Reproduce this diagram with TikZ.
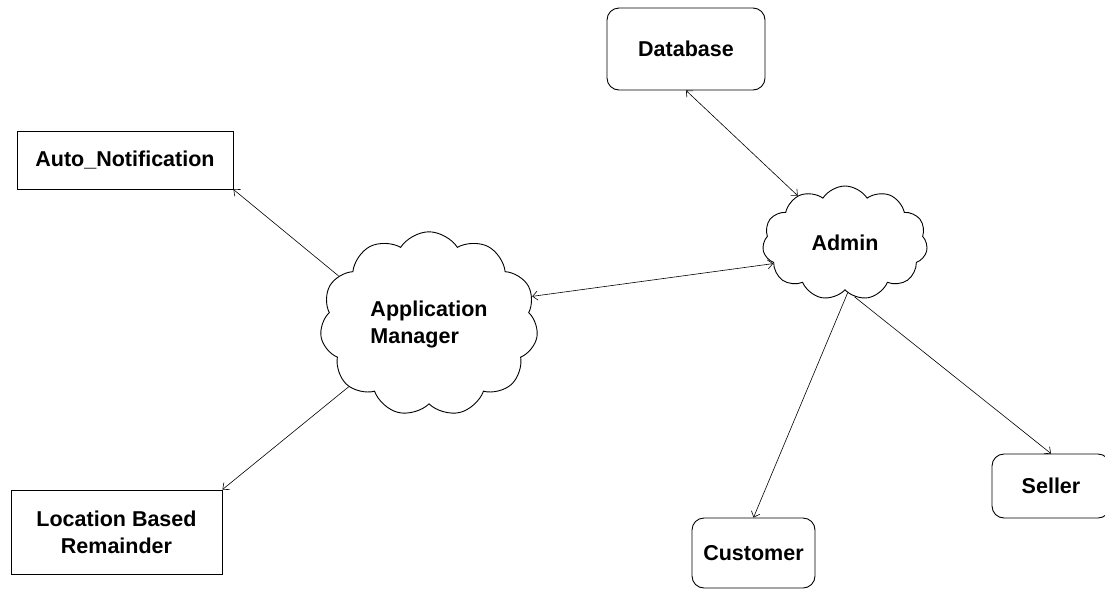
\documentclass[tikz,border=0pt]{standalone}
\usepackage{fontspec}
\setmainfont{Liberation Sans}
\usetikzlibrary{shapes.symbols,arrows.meta}
\tikzset{
  lbl/.style={font=\bfseries\fontsize{21.5}{27}\selectfont, text=black},
  sqbox/.style={draw=black, line width=0.9pt, inner sep=0pt, lbl},
  rbox/.style={draw=black, line width=0.9pt, rounded corners=12pt, inner sep=0pt, lbl},
  cloudnode/.style={draw=black, line width=0.9pt, cloud, cloud puffs=11, cloud puff arc=115, inner sep=0pt, lbl},
  conn/.style={draw=black, line width=0.6pt},
  tip/.style={-{Straight Barb[length=5pt,width=9pt]}},
  tips/.style={{Straight Barb[length=5pt,width=9pt]}-{Straight Barb[length=5pt,width=9pt]}}
}
\begin{document}
\begin{tikzpicture}[x=1pt,y=-1pt]
\useasboundingbox (0,0) rectangle (1105,590);
\fill[white] (0,0) rectangle (1105,590);
\clip (0,0) rectangle (1105,590);

\node[rbox, minimum width=158pt, minimum height=82pt] (db) at (686,49) {Database};
\node[sqbox, minimum width=216pt, minimum height=58pt] (auto) at (125,160) {Auto\_Notification};
\node[sqbox, minimum width=211pt, minimum height=84pt, align=center] (loc) at (116.5,532) {Location Based\\Remainder};
\node[cloudnode, minimum width=218pt, minimum height=162pt, align=left] (am) at (429,324) {Application\\Manager};
\node[cloudnode, minimum width=165pt, minimum height=114pt] (admin) at (845,243) {Admin};
\node[rbox, minimum width=123pt, minimum height=70pt] (cust) at (753.5,553) {Customer};
\node[rbox, minimum width=118pt, minimum height=64pt] (seller) at (1051,486) {Seller};

\draw[conn,tip] (am.152) -- (auto.south east);
\draw[conn,tip] (am.218) -- (loc.north east);
\draw[conn,tips] (am.15) -- (admin.196);
\draw[conn,tips] (db.south) -- (admin.135);
\draw[conn,tip] (admin.273) -- (cust.north);
\draw[conn,tip] (admin.280) -- (seller.north);
\end{tikzpicture}
\end{document}
